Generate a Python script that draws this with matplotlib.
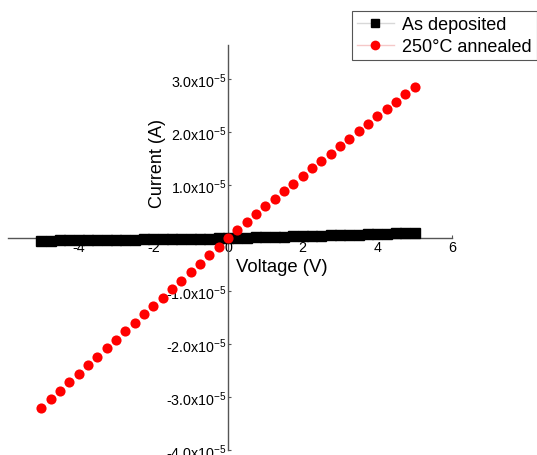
import matplotlib
matplotlib.use('Agg')

import matplotlib.pyplot as plt
from matplotlib.lines import Line2D

plt.rcParams['font.family'] = ['Liberation Sans', 'DejaVu Sans']
plt.rcParams['mathtext.default'] = 'regular'

# voltage sweep (V)
voltage = [-5.00, -4.75, -4.50, -4.25, -4.00, -3.75, -3.50, -3.25, -3.00, -2.75,
           -2.50, -2.25, -2.00, -1.75, -1.50, -1.25, -1.00, -0.75, -0.50, -0.25,
           0.00, 0.25, 0.50, 0.75, 1.00, 1.25, 1.50, 1.75, 2.00, 2.25,
           2.50, 2.75, 3.00, 3.25, 3.50, 3.75, 4.00, 4.25, 4.50, 4.75, 5.00]

# current in units of 1e-5 A
as_deposited = [-0.045, -0.043, -0.041, -0.039, -0.037, -0.035, -0.033, -0.031, -0.029, -0.027,
                -0.025, -0.023, -0.020, -0.018, -0.016, -0.013, -0.011, -0.008, -0.006, -0.003,
                0.000, 0.005, 0.010, 0.015, 0.020, 0.025, 0.030, 0.035, 0.040, 0.045,
                0.050, 0.055, 0.060, 0.065, 0.070, 0.075, 0.080, 0.085, 0.090, 0.095, 0.100]
annealed = [-3.20, -3.04, -2.88, -2.72, -2.56, -2.40, -2.24, -2.08, -1.92, -1.76,
            -1.60, -1.44, -1.28, -1.12, -0.96, -0.80, -0.64, -0.48, -0.32, -0.16,
            0.00, 0.15, 0.30, 0.45, 0.60, 0.74, 0.89, 1.03, 1.18, 1.32,
            1.46, 1.60, 1.74, 1.88, 2.02, 2.16, 2.30, 2.44, 2.58, 2.72, 2.86]

x_ticks = [-4, -2, 0, 2, 4, 6]
y_ticks = [-4, -3, -2, -1, 0, 1, 2, 3]
y_labels = ['-4.0x10$^{-5}$', '-3.0x10$^{-5}$', '-2.0x10$^{-5}$', '-1.0x10$^{-5}$',
            '0.0', '1.0x10$^{-5}$', '2.0x10$^{-5}$', '3.0x10$^{-5}$']

W, H = 537, 456
fig = plt.figure(figsize=(W / 100, H / 100), dpi=100)
ax = fig.add_axes([8 / W, 1 - 451 / H, 444 / W, 405 / H])
ax.patch.set_alpha(0)

ax.plot(voltage, as_deposited, 's', color='black', markersize=6.5, zorder=3)
ax.plot(voltage, annealed, 'o', color='#ff0000', markersize=7.3, markeredgewidth=0, zorder=4)

ax.set_xlim(-5.89, 6.0)
ax.set_ylim(-4.0, 3.65)

for s in ['top', 'right']:
    ax.spines[s].set_visible(False)
for s in ['left', 'bottom']:
    ax.spines[s].set_position(('data', 0))
    ax.spines[s].set_color('#555555')
    ax.spines[s].set_linewidth(1.0)

ax.set_xticks(x_ticks)
ax.set_xticklabels([str(t) for t in x_ticks])
ax.set_yticks(y_ticks)
ax.set_yticklabels(y_labels)
ax.tick_params(axis='both', length=2, direction='in', colors='#555555', labelcolor='black',
               labelsize=10.3, pad=1)

ax.text(0.337, 0.710, 'Current (A)', transform=ax.transAxes, rotation=90,
        ha='center', va='center', fontsize=13)
ax.text(0.616, 0.454, 'Voltage (V)', transform=ax.transAxes,
        ha='center', va='center', fontsize=13.3)

handles = [Line2D([], [], color='#d8d8d8', lw=1, marker='s', markersize=6,
                  markerfacecolor='black', markeredgecolor='black'),
           Line2D([], [], color='#f5c8c8', lw=1, marker='o', markersize=7,
                  markerfacecolor='#ff0000', markeredgewidth=0)]
leg = fig.legend(handles, ['As deposited', '250°C annealed'], loc='upper left',
                 bbox_to_anchor=(352 / W, 1 - 12 / H), bbox_transform=fig.transFigure,
                 borderaxespad=0, fontsize=13, handlelength=2.0, handletextpad=0.45,
                 labelspacing=0.25, borderpad=0.3, fancybox=False, framealpha=1)
leg.get_frame().set_edgecolor('#555555')
leg.get_frame().set_linewidth(0.8)

plt.savefig('out.png', dpi=100)
plt.close()
